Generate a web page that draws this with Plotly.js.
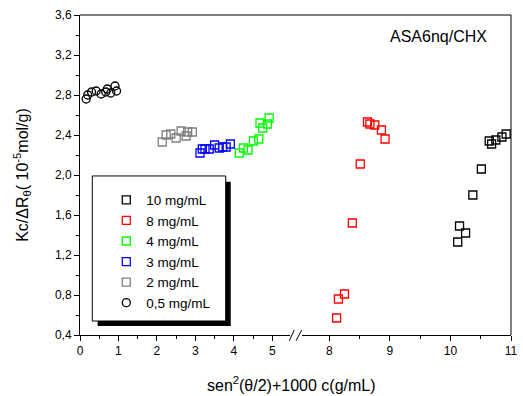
<!DOCTYPE html>
<html>
<head>
<meta charset="utf-8">
<script src="https://cdn.plot.ly/plotly-3.0.1.min.js"></script>
<style>html,body{margin:0;padding:0;background:#fff;}#chart{width:523px;height:396px;}</style>
</head>
<body>
<div id="chart"></div>
<script>
// Data
const seriesNames = ["10 mg/mL", "8 mg/mL", "4 mg/mL", "3 mg/mL", "2 mg/mL", "0,5 mg/mL"];

const x10 = [10.92, 10.85, 10.75, 10.68, 10.64, 10.51, 10.37, 10.15, 10.25, 10.12];
const y10 = [2.41, 2.38, 2.35, 2.31, 2.34, 2.06, 1.80, 1.49, 1.42, 1.33];

const x8 = [8.63, 8.67, 8.75, 8.86, 8.92, 8.51, 8.38, 8.25, 8.15, 8.12];
const y8 = [2.53, 2.51, 2.50, 2.45, 2.36, 2.11, 1.52, 0.81, 0.76, 0.57];

const x4 = [4.14, 4.25, 4.37, 4.51, 4.65, 4.68, 4.75, 4.87, 4.92];
const y4 = [2.22, 2.27, 2.25, 2.34, 2.36, 2.52, 2.47, 2.51, 2.57];

const x3 = [3.12, 3.18, 3.25, 3.36, 3.50, 3.62, 3.71, 3.80, 3.91];
const y3 = [2.22, 2.26, 2.26, 2.26, 2.30, 2.27, 2.28, 2.28, 2.31];

const x2 = [2.14, 2.24, 2.36, 2.50, 2.63, 2.76, 2.80, 2.92];
const y2 = [2.33, 2.40, 2.41, 2.37, 2.44, 2.39, 2.43, 2.43];

const x05 = [0.16, 0.20, 0.30, 0.42, 0.55, 0.67, 0.71, 0.80, 0.91, 0.95];
const y05 = [2.76, 2.80, 2.83, 2.84, 2.81, 2.83, 2.86, 2.82, 2.89, 2.84];

const colors = ["#000000", "#ff0000", "#00ff00", "#0000ff", "#808080", "#000000"];

function sq(x, y, i, xa) {
  return {
    x: x, y: y, type: "scatter", mode: "markers", name: seriesNames[i],
    xaxis: xa, yaxis: "y",
    marker: {symbol: i === 5 ? "circle-open" : "square-open", size: 8,
             color: colors[i], line: {color: colors[i], width: 1.3}},
    cliponaxis: false
  };
}

const traces = [
  sq(x10, y10, 0, "x2"),
  sq(x8, y8, 1, "x2"),
  sq(x4, y4, 2, "x"),
  sq(x3, y3, 3, "x"),
  sq(x2, y2, 4, "x"),
  sq(x05, y05, 5, "x")
];

const axFont = {family: "Liberation Sans, Arial, sans-serif", size: 12, color: "#000"};

const layout = {
  width: 523, height: 396,
  margin: {l: 80, r: 12, t: 15, b: 61},
  paper_bgcolor: "#fff", plot_bgcolor: "#fff",
  separators: ",.",
  font: {family: "Liberation Sans, Arial, sans-serif", color: "#000"},
  showlegend: true,
  legend: {x: 0.061, y: 0.47, xanchor: "left", yanchor: "top",
           bgcolor: "rgba(0,0,0,0)", borderwidth: 0,
           font: {family: "Liberation Sans, Arial, sans-serif", size: 13.5, color: "#000"}},
  xaxis: {domain: [0, 0.4863], range: [0, 5.45], anchor: "y",
          showgrid: false, zeroline: false, showline: true, linecolor: "#000", linewidth: 1,
          ticks: "outside", ticklen: 5, tickwidth: 1, tickcolor: "#000",
          tick0: 0, dtick: 1, tickfont: axFont,
          minor: {dtick: 0.5, ticks: "outside", ticklen: 3, tickcolor: "#000", showgrid: false}},
  xaxis2: {domain: [0.5153, 1], range: [7.55, 11], anchor: "y",
          showgrid: false, zeroline: false, showline: true, linecolor: "#000", linewidth: 1,
          ticks: "outside", ticklen: 5, tickwidth: 1, tickcolor: "#000",
          tick0: 0, dtick: 1, tickfont: axFont,
          minor: {dtick: 0.5, ticks: "outside", ticklen: 3, tickcolor: "#000", showgrid: false}},
  yaxis: {domain: [0, 1], range: [0.4, 3.6], anchor: "x",
          showgrid: false, zeroline: false, showline: true, linecolor: "#000", linewidth: 1,
          ticks: "outside", ticklen: 5, tickwidth: 1, tickcolor: "#000",
          tick0: 0.4, dtick: 0.4, tickformat: ".1f", tickfont: axFont,
          minor: {dtick: 0.2, ticks: "outside", ticklen: 3, tickcolor: "#000", showgrid: false}},
  shapes: [
    // top and right frame lines
    {type: "line", xref: "paper", yref: "paper", x0: 0, x1: 1, y0: 1, y1: 1, line: {color: "#000", width: 1}},
    {type: "line", xref: "paper", yref: "paper", x0: 1, x1: 1, y0: 0, y1: 1, line: {color: "#000", width: 1}},
    // axis break marks
    {type: "line", xref: "paper", yref: "paper", x0: 0.4856, x1: 0.4972, y0: -0.0178, y1: 0.0156, line: {color: "#000", width: 1}},
    {type: "line", xref: "paper", yref: "paper", x0: 0.5012, x1: 0.5144, y0: -0.0178, y1: 0.0156, line: {color: "#000", width: 1}},
    // legend shadow and box
    {type: "rect", xref: "paper", yref: "paper", x0: 0.041, x1: 0.3497, y0: 0.028, y1: 0.479, fillcolor: "#000", line: {width: 0}, layer: "above"},
    {type: "rect", xref: "paper", yref: "paper", x0: 0.0285, x1: 0.338, y0: 0.04375, y1: 0.497, fillcolor: "#fff", line: {color: "#000", width: 1}, layer: "above"}
  ],
  annotations: [
    {xref: "paper", yref: "paper", x: 0.831, y: 0.933, xanchor: "center", yanchor: "middle",
     text: "ASA6nq/CHX", showarrow: false, font: {size: 16, color: "#000"}},
    {xref: "paper", yref: "paper", x: 0.49, y: -0.153, xanchor: "center", yanchor: "middle",
     text: "sen<sup>2</sup>(θ/2)+1000 c(g/mL)", showarrow: false, font: {size: 16, color: "#000"}},
    {xref: "paper", yref: "paper", x: -0.135, y: 0.5, xanchor: "center", yanchor: "middle", textangle: -90,
     text: "Kc/ΔR<sub>θ</sub>( 10<sup>-5</sup>mol/g)", showarrow: false, font: {size: 16, color: "#000"}}
  ]
};

Plotly.newPlot("chart", traces, layout, {displayModeBar: false, staticPlot: true});
</script>
</body>
</html>
